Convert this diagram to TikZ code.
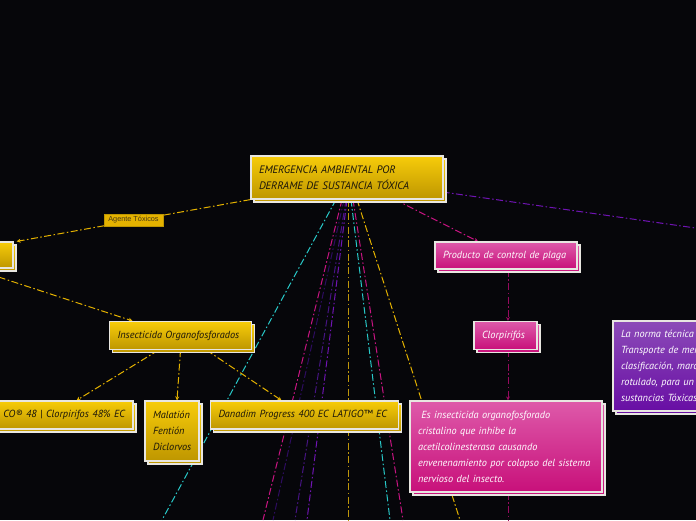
\documentclass[tikz,border=0pt]{standalone}
\usepackage{fontspec}
\setmainfont{PT Sans}
\newfontfamily\lblfont{Liberation Sans}
\usetikzlibrary{shadows,arrows.meta}
\definecolor{bgc}{RGB}{6,6,10}
\definecolor{gtop}{RGB}{247,204,10}
\definecolor{gbot}{RGB}{190,150,0}
\definecolor{ptop}{RGB}{222,90,170}
\definecolor{pbot}{RGB}{200,16,122}
\definecolor{vtop}{RGB}{140,75,184}
\definecolor{vbot}{RGB}{104,14,164}
\definecolor{boxline}{RGB}{232,230,225}
\definecolor{gtext}{RGB}{25,20,10}
\definecolor{goldl}{RGB}{228,178,0}
\definecolor{goldd}{RGB}{190,150,10}
\definecolor{cyanl}{RGB}{40,200,200}
\definecolor{magl}{RGB}{200,20,130}
\definecolor{magd}{RGB}{150,10,95}
\definecolor{indl}{RGB}{45,12,95}
\definecolor{dpurl}{RGB}{70,20,130}
\definecolor{purl}{RGB}{112,20,180}
\definecolor{lbltext}{RGB}{70,55,20}
\pgfdeclarelayer{bg}
\pgfdeclarelayer{edges}
\pgfsetlayers{bg,edges,main}
\tikzset{
  boxbase/.style={rectangle, draw=boxline, line width=1.2pt, inner ysep=0pt, inner xsep=8pt, align=left},
  gbox/.style={boxbase, top color=gtop, bottom color=gbot, text=gtext,
    general shadow={shadow xshift=3pt, shadow yshift=-3pt, draw=boxline, line width=1.2pt, top color=gtop, bottom color=gbot}},
  pbox/.style={boxbase, top color=ptop, bottom color=pbot, text=white,
    general shadow={shadow xshift=3pt, shadow yshift=-3pt, draw=boxline, line width=1.2pt, top color=ptop, bottom color=pbot}},
  vbox/.style={boxbase, top color=vtop, bottom color=vbot, text=white,
    general shadow={shadow xshift=3pt, shadow yshift=-3pt, draw=boxline, line width=1.2pt, top color=vtop, bottom color=vbot}},
  nfont/.style={font=\fontsize{10.3}{16}\selectfont\itshape},
  conn/.style={line width=1pt, dash pattern=on 7pt off 2.5pt on 1.5pt off 2.5pt},
  tip/.style={-{Stealth[length=4pt,width=4pt]}},
  lbl/.style={rectangle, fill=goldl, draw=gbot, line width=0.4pt, text=lbltext, font=\lblfont\fontsize{7.3}{8}\selectfont, inner sep=1.5pt, minimum height=12pt, minimum width=59pt}
}
\begin{document}
\begin{tikzpicture}[x=1pt,y=-1pt]
\begin{pgfonlayer}{bg}
\fill[bgc] (0,0) rectangle (696,520);
\end{pgfonlayer}
\useasboundingbox (0,0) rectangle (696,520);
\clip (0,0) rectangle (696,520);

% nodes
\node[gbox, font=\fontsize{10.8}{16}\selectfont\itshape, minimum width=192pt, minimum height=43pt, text width=176pt] (root) at (347,177.5) {EMERGENCIA AMBIENTAL POR\\DERRAME DE SUSTANCIA TÓXICA};
\node[gbox, minimum width=80pt, minimum height=26pt] (left) at (-27,255) {};
\node[gbox, nfont, minimum width=142pt, minimum height=28pt, text width=126pt] (ins) at (180.5,335.5) {Insecticida Organofosforados};
\node[gbox, nfont, minimum width=193pt, minimum height=28pt, text width=177pt, align=right] (clp) at (36.5,415) {CO® 48 | Clorpirifos 48\% EC};
\node[gbox, nfont, minimum width=54pt, minimum height=60pt, text width=38pt] (mal) at (172,431) {Malatión\\Fentión\\Diclorvos};
\node[gbox, nfont, minimum width=188pt, minimum height=28pt, text width=172pt] (dan) at (304.5,415) {Danadim Progress 400 EC LATIGO™ EC};
\node[pbox, nfont, minimum width=142pt, minimum height=27pt, text width=126pt] (prod) at (506,255.5) {Producto de control de plaga};
\node[pbox, nfont, minimum width=63pt, minimum height=28pt, text width=47pt] (clo) at (505.5,335.5) {Clorpirifós};
\node[pbox, nfont, minimum width=192pt, minimum height=91pt, text width=176pt] (desc) at (506,446.5) {\ Es insecticida organofosforado\\cristalino que inhibe la\\acetilcolinesterasa causando\\envenenamiento por colapso del sistema\\nervioso del insecto.};
\node[vbox, nfont, minimum width=157pt, minimum height=90pt, text width=141pt] (norma) at (691.5,366) {La norma técnica NTC 1692\\Transporte de mercancías\\clasificación, marcado\\rotulado, para un manejo\\sustancias Tóxicas};
\node[lbl] (agente) at (133.5,220) {Agente Tóxicos};

% free ends
\coordinate (eR) at (720,231.5);
\coordinate (e1) at (162,520);
\coordinate (e2) at (263,520);
\coordinate (e3) at (273,520);
\coordinate (e4) at (295,520);
\coordinate (e5) at (307,520);
\coordinate (e6) at (348,520);
\coordinate (e7) at (390,520);
\coordinate (e8) at (403,520);
\coordinate (e9) at (460,520);
\coordinate (eD) at (508,520);

\begin{pgfonlayer}{edges}
\draw[conn, goldl, tip] (root.south west) -- ([xshift=3pt]left.north east);
\draw[conn, goldl, tip] (left.south) -- ([xshift=-48pt]ins.north);
\draw[conn, goldl, tip] ([xshift=-22pt]ins.south) -- ([xshift=40pt]clp.north);
\draw[conn, goldl, tip] (ins.south) -- ([xshift=5pt]mal.north);
\draw[conn, goldl, tip] ([xshift=26pt]ins.south) -- ([xshift=-23pt]dan.north);
\draw[conn, magl, tip] ([xshift=48pt]root.south) -- ([xshift=-28pt]prod.north);
\draw[conn, magd, tip] ([xshift=2pt]prod.south) -- ([xshift=2.5pt]clo.north);
\draw[conn, magd, tip] ([xshift=2.5pt]clo.south) -- ([xshift=2pt]desc.north);
\draw[conn, magd] ([xshift=2pt]desc.south) -- (eD);
\draw[conn, purl] ([xshift=-1pt,yshift=-14.5pt]root.east) -- (eR);
\draw[conn, cyanl] ([xshift=-11pt]root.south) -- (e1);
\draw[conn, magl] ([xshift=-5pt]root.south) -- (e2);
\draw[conn, indl] ([xshift=-3pt]root.south) -- (e3);
\draw[conn, dpurl] ([xshift=-1pt]root.south) -- (e4);
\draw[conn, purl] (root.south) -- (e5);
\draw[conn, goldd] ([xshift=1pt]root.south) -- (e6);
\draw[conn, cyanl] ([xshift=4pt]root.south) -- (e7);
\draw[conn, magl] ([xshift=6pt]root.south) -- (e8);
\draw[conn, goldl] ([xshift=10pt]root.south) -- (e9);
\end{pgfonlayer}
\end{tikzpicture}
\end{document}
